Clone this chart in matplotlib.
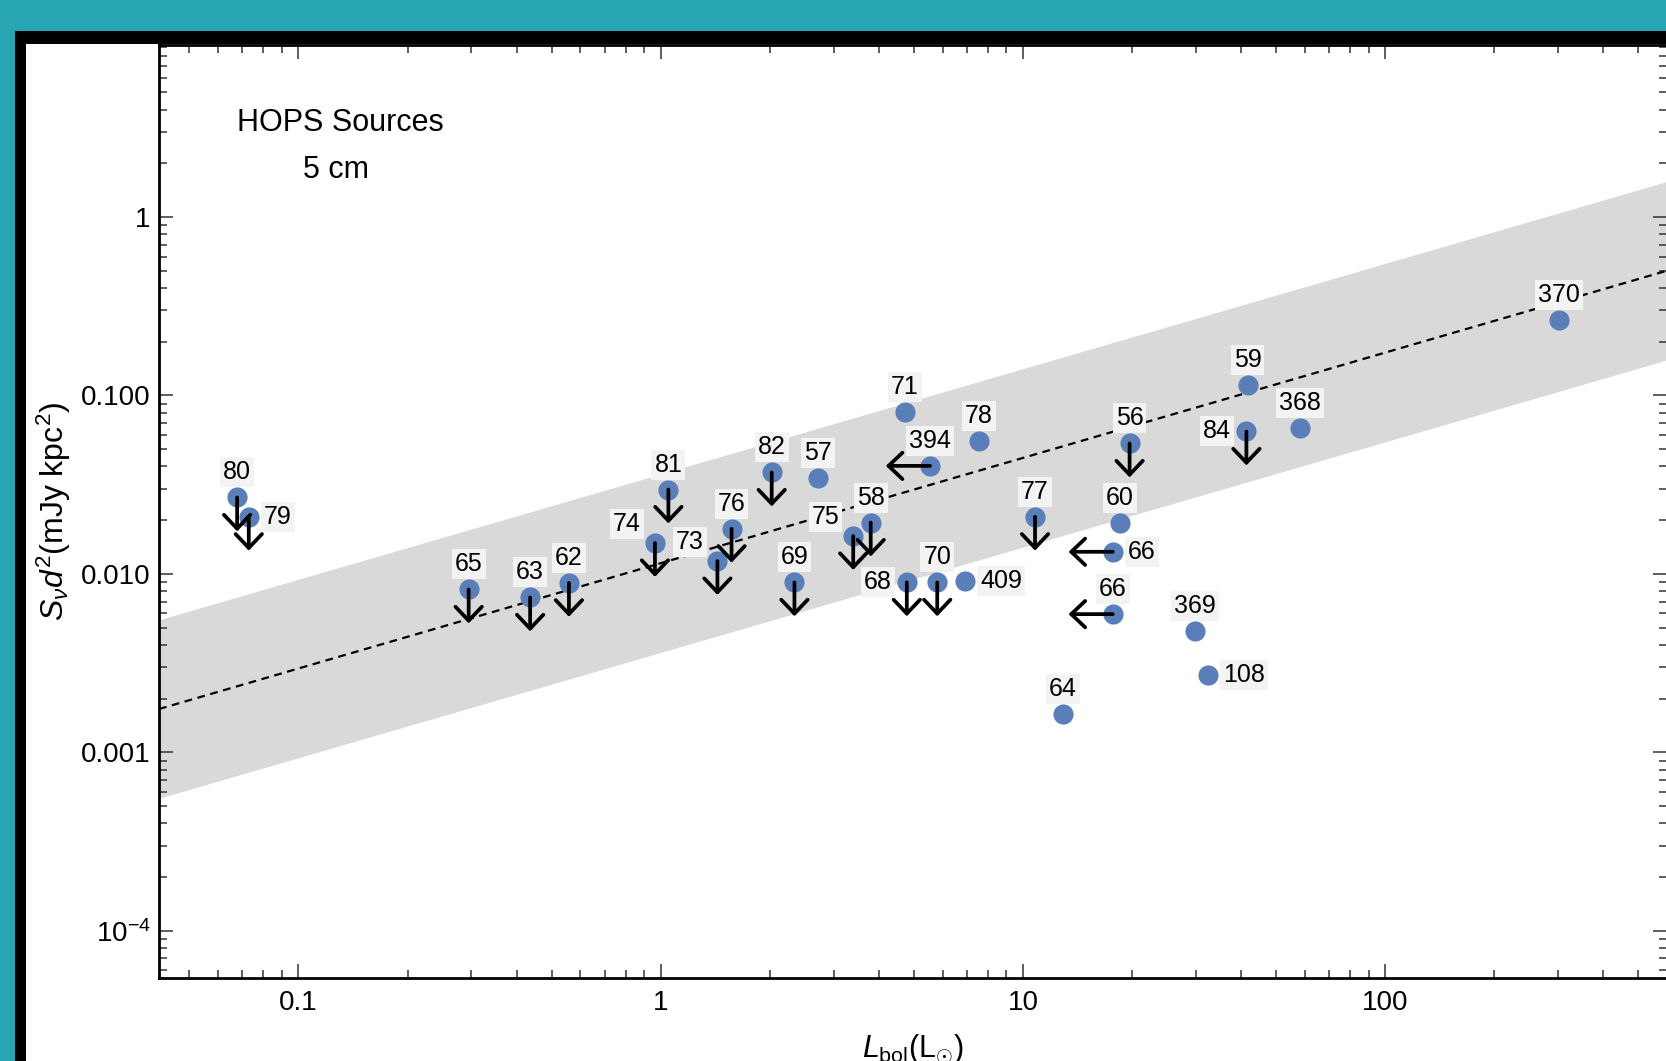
import numpy as np
import matplotlib
matplotlib.use("Agg")
import matplotlib.pyplot as plt
from matplotlib.patches import Rectangle
from matplotlib.ticker import LogLocator, NullFormatter

plt.rcParams['font.family'] = ['Liberation Sans', 'DejaVu Sans']
plt.rcParams['mathtext.fontset'] = 'custom'
plt.rcParams['mathtext.rm'] = 'Liberation Sans'
plt.rcParams['mathtext.it'] = 'Liberation Sans:italic'
plt.rcParams['mathtext.bf'] = 'Liberation Sans:bold'

# ---------------- data ----------------
names = ['80', '79', '65', '63', '62', '74', '81', '73', '76', '82', '57', '71',
         '394', '78', '75', '58', '69', '68', '70', '409', '77', '56', '60', '66',
         '66', '59', '84', '368', '369', '108', '64', '370']
lbol = [0.0677, 0.0729, 0.295, 0.436, 0.558, 0.964, 1.05, 1.434, 1.569, 2.025, 2.72, 4.72,
        5.54, 7.55, 3.40, 3.80, 2.34, 4.78, 5.80, 6.92, 10.8, 19.7, 18.5, 17.7,
        17.7, 41.7, 41.4, 58.1, 29.9, 32.4, 12.9, 302.7]
flux = [0.0268, 0.0209, 0.00818, 0.00738, 0.00891, 0.0149, 0.0297, 0.0118, 0.0179, 0.0370, 0.0345, 0.0806,
        0.0403, 0.0552, 0.0163, 0.0194, 0.00896, 0.00896, 0.00896, 0.00914, 0.0209, 0.0538, 0.0194, 0.0133,
        0.00595, 0.1137, 0.0628, 0.0656, 0.00476, 0.00271, 0.00164, 0.265]
# 'flux' = upper limit on flux (down arrow), 'lum' = upper limit on Lbol (left arrow)
limit = ['flux', 'flux', 'flux', 'flux', 'flux', 'flux', 'flux', 'flux', 'flux', 'flux', '', '',
         'lum', '', 'flux', 'flux', 'flux', 'flux', 'flux', '', 'flux', 'flux', '', 'lum',
         'lum', '', 'flux', '', '', '', '', '']
label_pos = ['above', 'right', 'above', 'above', 'above', 'aboveleft', 'above', 'aboveleft', 'above',
             'above', 'above', 'above', 'above', 'above', 'aboveleft', 'above', 'above', 'left',
             'above', 'right', 'above', 'above', 'above', 'right', 'above', 'above', 'left',
             'above', 'above', 'right', 'above', 'above']

# fitted relation log(S d^2) = a + b log(Lbol), +/- scatter dex
fit_intercept = -1.94
fit_slope = 0.59
fit_scatter = 0.5

xlim = (0.0412, 600)
ylim = (5.46e-5, 9.2)
xticks = [0.1, 1, 10, 100]
xticklabels = ['0.1', '1', '10', '100']
yticks = [1e-4, 1e-3, 1e-2, 0.1, 1]
yticklabels = ['$10^{-4}$', '0.001', '0.010', '0.100', '1']

# ---------------- figure ----------------
W, H = 1666, 1061
TEAL = '#28A6B3'
fig = plt.figure(figsize=(W / 100, H / 100), dpi=100, facecolor=TEAL)
fig.add_artist(Rectangle((15 / W, 0), 1, (H - 31) / H, transform=fig.transFigure,
                         fc='black', ec='none', zorder=-2))
fig.add_artist(Rectangle((26 / W, 0), 1, (H - 44) / H, transform=fig.transFigure,
                         fc='white', ec='none', zorder=-1))

left, right, top, bottom = 159, 1667, 45, 977.7
ax = fig.add_axes([left / W, (H - bottom) / H, (right - left) / W, (bottom - top) / H])
ax.set_xscale('log')
ax.set_yscale('log')
ax.set_xlim(*xlim)
ax.set_ylim(*ylim)

# fit band and line
lx = np.logspace(np.log10(xlim[0]), np.log10(xlim[1]), 200)
ly = 10 ** (fit_intercept + fit_slope * np.log10(lx))
ax.fill_between(lx, ly * 10 ** (-fit_scatter), ly * 10 ** fit_scatter,
                color='#d9d9d9', lw=0, zorder=1)
ax.plot(lx, ly, color='black', lw=1.6, ls=(0, (3.5, 2.5)), zorder=2)

# points
ax.plot(lbol, flux, 'o', ms=14.5, color='#5A7EB8', mec='none', zorder=3)

dy = 10 ** 0.19
dx = 10 ** 0.122
for x, y, lim in zip(lbol, flux, limit):
    if lim == 'flux':
        end = (x, y / dy)
    elif lim == 'lum':
        end = (x / dx, y)
    else:
        continue
    ax.annotate('', xy=end, xytext=(x, y), zorder=4,
                arrowprops=dict(arrowstyle='->,head_length=1.0,head_width=0.95',
                                lw=2.7, color='black', shrinkA=0, shrinkB=0))

offsets = {'above': ((0, 18), 'center'),
           'right': ((11, 0), 'left'),
           'left': ((-11, 0), 'right'),
           'aboveleft': ((-20, 14), 'center')}
for name, x, y, pos in zip(names, lbol, flux, label_pos):
    off, ha = offsets[pos]
    ax.annotate(name, xy=(x, y), xytext=off, textcoords='offset points',
                ha=ha, va='center', fontsize=18, zorder=5,
                bbox=dict(boxstyle='square,pad=0.12', fc='#f3f3f3', ec='none'))

ax.text(0.12, 0.9166, 'HOPS Sources', transform=ax.transAxes, ha='center', va='center', fontsize=22)
ax.text(0.1175, 0.8656, '5 cm', transform=ax.transAxes, ha='center', va='center', fontsize=22)

ax.set_xticks(xticks)
ax.set_xticklabels(xticklabels)
ax.set_yticks(yticks)
ax.set_yticklabels(yticklabels)
ax.xaxis.set_minor_locator(LogLocator(base=10, subs=np.arange(2, 10), numticks=20))
ax.yaxis.set_minor_locator(LogLocator(base=10, subs=np.arange(2, 10), numticks=20))
ax.xaxis.set_minor_formatter(NullFormatter())
ax.yaxis.set_minor_formatter(NullFormatter())
ax.tick_params(which='both', direction='in', top=True, right=True, colors='#333333',
               labelcolor='black', labelsize=20)
ax.tick_params(which='major', length=10, width=1.1)
ax.tick_params(axis='x', which='major', pad=9)
ax.tick_params(axis='y', which='major', pad=6)
ax.tick_params(which='minor', length=5.5, width=1.1)
for s in ax.spines.values():
    s.set_linewidth(2)

ax.set_xlabel(r'$L_{\rm bol}$(L$_{\odot}$)', fontsize=22)
ax.xaxis.set_label_coords(0.5, -0.058)
ax.xaxis.label.set_va('top')
ax.set_ylabel(r'$S_{\nu}d^{2}$(mJy kpc$^{2}$)', fontsize=23)
ax.yaxis.set_label_coords(-0.057, 0.5)

fig.savefig('out.png', dpi=100, facecolor=TEAL)
